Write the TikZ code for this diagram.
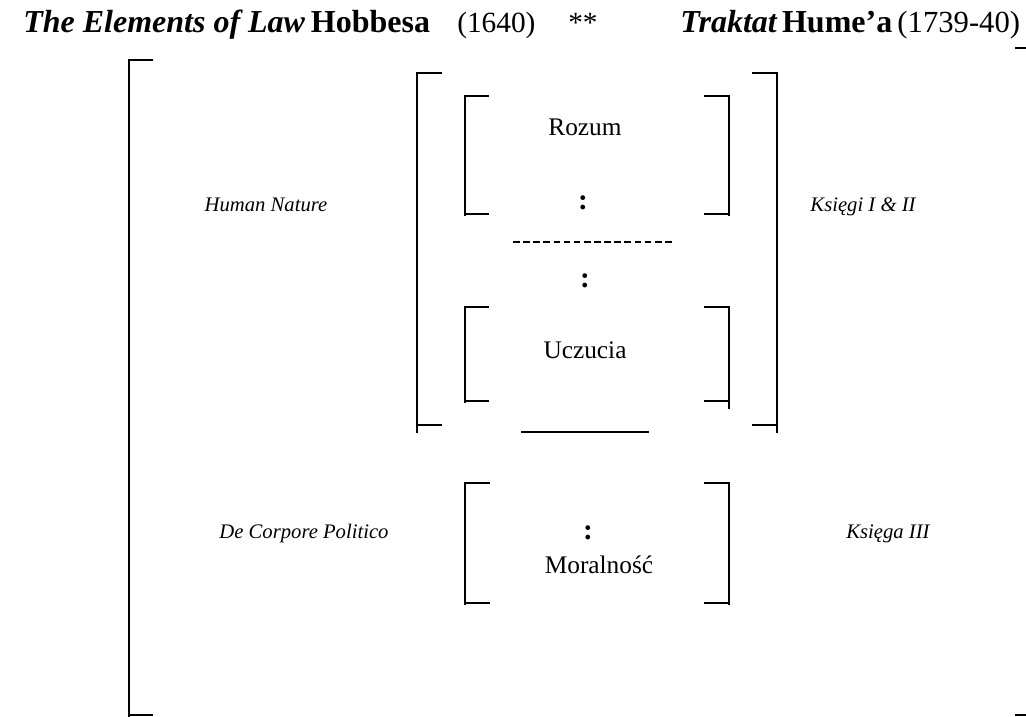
\documentclass[tikz,border=0pt]{standalone}
\usepackage{fontspec}
\setmainfont{Liberation Serif}
\usetikzlibrary{positioning}

\begin{document}
\begin{tikzpicture}[
    x=0.75pt, y=-0.75pt,
    % Bracket and rule styles
    bracket/.style={line width=1.5pt, line join=miter},
    rule/.style={line width=0.8pt},
    dashrule/.style={line width=0.8pt, dash pattern=on 5pt off 2.6pt},
    % Heading styles
    worktitle/.style={font=\fontsize{24}{28}\selectfont\bfseries\itshape, inner sep=0pt, anchor=base west},
    authorname/.style={font=\fontsize{24}{28}\selectfont\bfseries, inner sep=0pt, anchor=base west},
    yearlabel/.style={font=\fontsize{22}{26}\selectfont, inner sep=0pt, anchor=base west},
    % Label styles
    partlabel/.style={font=\fontsize{15.5}{18}\selectfont\itshape, inner sep=0pt, anchor=base},
    faculty/.style={font=\fontsize{19}{22}\selectfont, inner sep=0pt, anchor=base},
    colon/.style={font=\fontsize{22}{24}\selectfont\bfseries, inner sep=0pt}
]
    \useasboundingbox (0,0) rectangle (1026,717);

    % === HEADING ===
    \node[worktitle] (hobbestitle) at (23,33) {The Elements of Law};
    \node[authorname, base right=4pt of hobbestitle] (hobbesname) {Hobbesa};
    \node[yearlabel] (hobbesyear) at (457,33) {(1640)};
    \node[yearlabel] (stars) at (568,33) {**};
    \node[worktitle] (humetitle) at (680,33) {Traktat};
    \node[authorname, base right=3.5pt of humetitle] (humename) {Hume'a};
    \node[yearlabel, font=\fontsize{23}{26}\selectfont, base right=3.5pt of humename] (humeyear) {(1739-40)};

    % === OUTER BRACKETS ===
    \draw[bracket] (153,60) -- (129,60) -- (129,717);
    \draw[bracket] (129,715) -- (153,715);
    \draw[bracket] (1015,48) -- (1026,48);
    \draw[bracket] (1015,715) -- (1026,715);

    % === HUMAN NATURE / BOOKS I-II ===
    \draw[bracket] (442,73) -- (417,73) -- (417,433);
    \draw[bracket] (417,425) -- (442,425);
    \draw[bracket] (752,73) -- (777,73) -- (777,433);
    \draw[bracket] (752,425) -- (777,425);
    \node[partlabel] (humannature) at (266,211) {Human Nature};
    \node[partlabel] (booksonetwo) at (863,211) {Księgi I \& II};

    % Reason
    \draw[bracket] (489,96) -- (465,96) -- (465,216);
    \draw[bracket] (465,214) -- (489,214);
    \draw[bracket] (704,96) -- (729,96) -- (729,216);
    \draw[bracket] (704,214) -- (729,214);
    \node[faculty] (reason) at (585,136) {Rozum};
    \node[colon] (reasoncolon) at (583,203) {:};

    % Separator
    \draw[dashrule] (513,242) -- (672,242);
    \node[colon] (passioncolon) at (585,281) {:};

    % Passions
    \draw[bracket] (489,307) -- (465,307) -- (465,403);
    \draw[bracket] (465,401) -- (489,401);
    \draw[bracket] (704,307) -- (729,307) -- (729,409);
    \draw[bracket] (704,401) -- (729,401);
    \node[faculty] (passions) at (585,358) {Uczucia};
    \draw[rule] (521,432) -- (649,432);

    % === DE CORPORE POLITICO / BOOK III ===
    \draw[bracket] (490,483) -- (465,483) -- (465,605);
    \draw[bracket] (465,603) -- (490,603);
    \draw[bracket] (704,483) -- (729,483) -- (729,605);
    \draw[bracket] (704,603) -- (729,603);
    \node[partlabel] (corpore) at (304,538) {De Corpore Politico};
    \node[partlabel] (bookthree) at (888,538) {Księga III};
    \node[colon] (moralcolon) at (588,533) {:};
    \node[faculty] (morals) at (599,573) {Moralność};

\end{tikzpicture}
\end{document}
